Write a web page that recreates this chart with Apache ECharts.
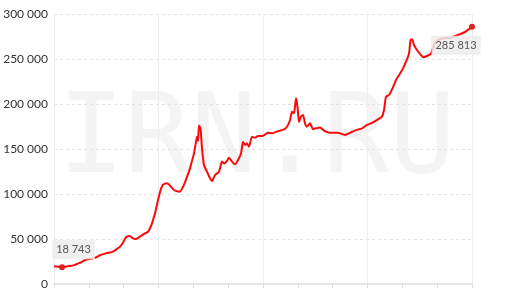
<!DOCTYPE html>
<html>
<head>
<meta charset="utf-8">
<script src="https://cdn.jsdelivr.net/npm/echarts@6/dist/echarts.min.js"></script>
<style>html,body{margin:0;padding:0;background:#fff}#c{width:516px;height:290px}</style>
</head>
<body>
<div id="c"></div>
<script>
// years since start of series
const years = [0,0.230,0.459,0.689,0.919,1.148,1.321,1.550,1.780,2.010,2.239,2.469,2.641,2.986,3.215,3.388,3.617,3.789,3.962,4.134,4.306,4.421,4.536,4.708,4.938,5.167,5.397,5.512,5.627,5.799,5.971,6.086,6.172,6.258,6.373,6.488,6.603,6.718,6.890,7.062,7.234,7.407,7.522,7.636,7.809,7.923,8.038,8.153,8.211,8.268,8.325,8.411,8.498,8.612,8.785,8.957,9.072,9.244,9.474,9.646,9.761,9.933,10.048,10.220,10.392,10.565,10.737,10.852,10.967,11.081,11.196,11.368,11.541,11.713,11.943,12.115,12.287,12.517,12.746,12.976,13.206,13.378,13.550,13.665,13.780,13.895,13.981,14.067,14.182,14.297,14.411,14.526,14.699,14.871,15.043,15.273,15.502,15.847,16.306,16.708,16.995,17.340,17.684,17.971,18.258,18.603,18.833,18.947,19.062,19.234,19.464,19.636,19.809,20.038,20.211,20.383,20.469,20.555,20.670,20.842,21.072,21.187,21.416,21.646,21.818,22.048,22.335,22.737,23.196,23.598,23.885,24.000];
const prices = [19600,19200,18743,19300,20000,21000,22200,24000,26700,27800,28500,30000,31900,34000,35000,35900,39000,41500,45900,51900,53300,52500,50700,50000,52600,55600,58100,62000,67400,78500,93000,102000,107000,110500,111500,112000,110500,108000,104500,103000,102600,108000,113000,119000,128500,137000,145000,158000,163700,159000,176000,173000,150700,132000,124800,117400,114400,121000,124800,136000,134000,136700,140400,136000,133000,137800,145000,158000,154400,156300,152600,163700,162500,164500,164500,166000,168000,167400,169000,170400,171900,174800,182000,191500,189600,206300,197000,180000,186000,187800,178500,174800,178500,172000,173000,174000,170400,168000,168000,165600,168000,171000,173000,176700,179000,183000,186000,193000,208000,210000,218500,226700,232000,239600,247000,256000,271000,272000,265600,260000,254400,252000,253300,256000,265600,271000,273000,273700,276700,280000,284000,285813];
const yTicks = [0,50000,100000,150000,200000,250000,300000];
const watermark = 'IRN.RU';

function fmt(v){ return String(Math.round(v)).replace(/\B(?=(\d{3})+(?!\d))/g,' '); }

const chart = echarts.init(document.getElementById('c'), null, {renderer:'canvas'});
chart.setOption({
  animation:false,
  backgroundColor:'#fff',
  graphic:[{
    type:'text', z:-10, left:58, top: 88,
    style:{text:watermark, fill:'#f4f4f4', font:'normal 110px "DejaVu Sans Mono"'}
  }],
  grid:{left:54,right:44,top:14,bottom:6,containLabel:false},
  xAxis:{
    type:'value', min:0, max:24, interval:6,
    axisLabel:{show:false},
    axisLine:{show:true,lineStyle:{color:'#e6e6e6',width:2}},
    axisTick:{show:true,length:4,lineStyle:{color:'#dddddd'}},
    minorTick:{show:true,splitNumber:3,length:4,lineStyle:{color:'#dddddd'}},
    splitLine:{show:true,lineStyle:{color:'#eeeeee',width:1}}
  },
  yAxis:{
    type:'value', min:yTicks[0], max:yTicks[yTicks.length-1], interval:50000,
    axisLine:{show:false}, axisTick:{show:false},
    axisLabel:{color:'#333',fontSize:12,fontFamily:'Lato',margin:6,formatter:fmt},
    splitLine:{show:true,lineStyle:{color:'#e3e3e3',type:[3,3]}}
  },
  series:[{
    type:'line',
    data: years.map((t,i)=>[t,prices[i]]),
    showSymbol:false, smooth:0.2,
    lineStyle:{color:'#fa0a0a',width:2},
    markPoint:{
      symbol:'circle', symbolSize:6,
      itemStyle:{color:'#dd2222'},
      data:[
        {type:'min', label:{offset:[11.5,-17.5]}},
        {type:'max', label:{offset:[-16,18.5]}}
      ],
      label:{show:true, position:'inside', formatter:p=>fmt(p.value), color:'#555',
        fontSize:11, fontFamily:'Lato', backgroundColor:'rgba(236,236,236,0.85)', padding:[4,4]}
    }
  }]
});
</script>
</body>
</html>
